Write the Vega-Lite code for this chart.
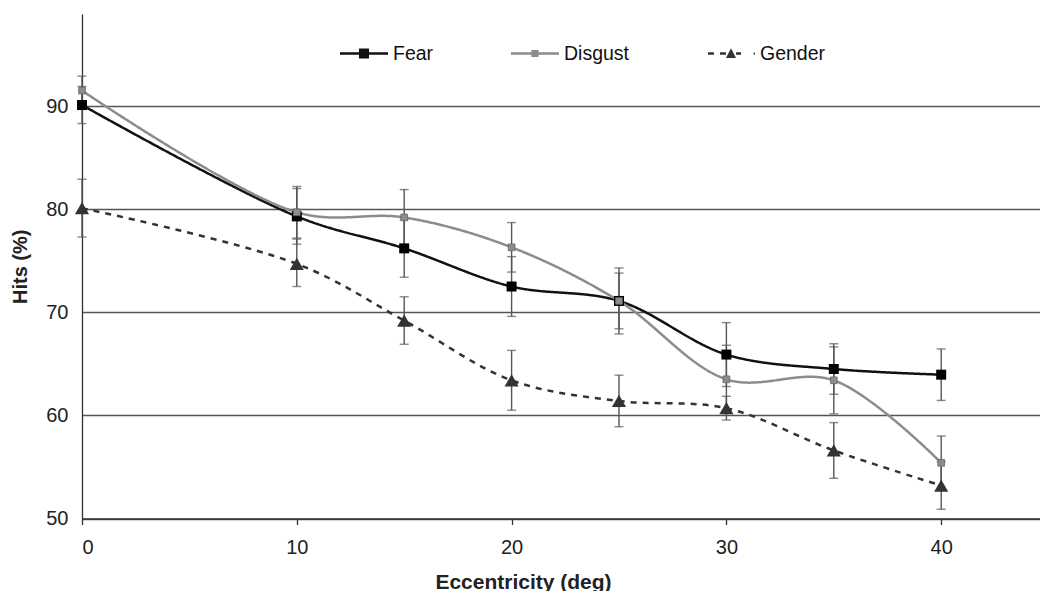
{
  "$schema": "https://vega.github.io/schema/vega-lite/v6.json",
  "width": 958,
  "height": 504.5,
  "autosize": "none",
  "padding": {"left": 82, "top": 14, "right": 0, "bottom": 72.5},
  "background": "white",
  "config": {
    "font": "Liberation Sans",
    "view": {"stroke": null}
  },
  "data": {
    "values": [
      {"ecc": 0, "cond": "Fear", "hits": 90.1, "lo": 88.3, "hi": 91.9},
      {"ecc": 10, "cond": "Fear", "hits": 79.3, "lo": 76.6, "hi": 82.0},
      {"ecc": 15, "cond": "Fear", "hits": 76.2, "lo": 73.4, "hi": 79.0},
      {"ecc": 20, "cond": "Fear", "hits": 72.5, "lo": 69.6, "hi": 75.4},
      {"ecc": 25, "cond": "Fear", "hits": 71.1, "lo": 67.9, "hi": 74.3},
      {"ecc": 30, "cond": "Fear", "hits": 65.9, "lo": 62.8, "hi": 69.0},
      {"ecc": 35, "cond": "Fear", "hits": 64.5, "lo": 62.05, "hi": 66.95},
      {"ecc": 40, "cond": "Fear", "hits": 63.95, "lo": 61.45, "hi": 66.45},
      {"ecc": 0, "cond": "Disgust", "hits": 91.5, "lo": 90.1, "hi": 92.9},
      {"ecc": 10, "cond": "Disgust", "hits": 79.7, "lo": 77.2, "hi": 82.2},
      {"ecc": 15, "cond": "Disgust", "hits": 79.2, "lo": 76.5, "hi": 81.9},
      {"ecc": 20, "cond": "Disgust", "hits": 76.3, "lo": 73.9, "hi": 78.7},
      {"ecc": 25, "cond": "Disgust", "hits": 71.1, "lo": 68.4, "hi": 73.8},
      {"ecc": 30, "cond": "Disgust", "hits": 63.5, "lo": 60.2, "hi": 66.8},
      {"ecc": 35, "cond": "Disgust", "hits": 63.4, "lo": 60.15, "hi": 66.65},
      {"ecc": 40, "cond": "Disgust", "hits": 55.4, "lo": 52.8, "hi": 58.0},
      {"ecc": 0, "cond": "Gender", "hits": 80.1, "lo": 77.3, "hi": 82.9},
      {"ecc": 10, "cond": "Gender", "hits": 74.7, "lo": 72.5, "hi": 77.1},
      {"ecc": 15, "cond": "Gender", "hits": 69.2, "lo": 66.9, "hi": 71.5},
      {"ecc": 20, "cond": "Gender", "hits": 63.4, "lo": 60.5, "hi": 66.3},
      {"ecc": 25, "cond": "Gender", "hits": 61.4, "lo": 58.9, "hi": 63.9},
      {"ecc": 30, "cond": "Gender", "hits": 60.7, "lo": 59.55, "hi": 61.85},
      {"ecc": 35, "cond": "Gender", "hits": 56.6, "lo": 53.9, "hi": 59.3},
      {"ecc": 40, "cond": "Gender", "hits": 53.2, "lo": 50.9, "hi": 55.5}
    ]
  },
  "layer": [
    {
      "mark": {"type": "rule", "color": "#555555", "strokeWidth": 1.4},
      "encoding": {
        "x": {
          "field": "ecc", "type": "quantitative",
          "scale": {"domain": [0, 44.6], "nice": false, "zero": false},
          "axis": {
            "values": [0, 10, 20, 30, 40],
            "title": "Eccentricity (deg)",
            "grid": false,
            "domainColor": "#333333", "domainWidth": 1.3,
            "tickColor": "#333333", "tickSize": 6, "tickWidth": 1.3,
            "labelFontSize": 20, "labelColor": "#222222", "labelPadding": 13,
            "titleFontSize": 21, "titleFontWeight": "bold", "titleColor": "#222222",
            "titleX": 441, "titleY": 69.5, "titleBaseline": "alphabetic"
          }
        },
        "y": {
          "field": "lo", "type": "quantitative",
          "scale": {"domain": [50, 98.93], "nice": false, "zero": false},
          "axis": {
            "values": [50, 60, 70, 80, 90],
            "title": "Hits (%)",
            "grid": true, "gridColor": "#555555", "gridWidth": 1.3,
            "domainColor": "#333333", "domainWidth": 1.3,
            "tickSize": 0,
            "labelFontSize": 20, "labelColor": "#222222", "labelPadding": 14,
            "titleFontSize": 20, "titleFontWeight": "bold", "titleColor": "#222222",
            "titleX": -52
          }
        },
        "y2": {"field": "hi"}
      }
    },
    {
      "mark": {"type": "tick", "color": "#555555", "orient": "horizontal", "size": 9, "thickness": 1.4},
      "encoding": {
        "x": {"field": "ecc", "type": "quantitative"},
        "y": {"field": "lo", "type": "quantitative"}
      }
    },
    {
      "mark": {"type": "tick", "color": "#555555", "orient": "horizontal", "size": 9, "thickness": 1.4},
      "encoding": {
        "x": {"field": "ecc", "type": "quantitative"},
        "y": {"field": "hi", "type": "quantitative"}
      }
    },
    {
      "mark": {"type": "line", "interpolate": "catmull-rom", "strokeWidth": 2.5},
      "encoding": {
        "x": {"field": "ecc", "type": "quantitative"},
        "y": {"field": "hits", "type": "quantitative"},
        "color": {
          "field": "cond", "type": "nominal",
          "scale": {"domain": ["Fear", "Disgust", "Gender"], "range": ["#111111", "#8c8c8c", "#333333"]},
          "legend": {
            "orient": "none", "legendX": 258, "legendY": 15.5,
            "direction": "horizontal", "title": null,
            "symbolSize": 2304, "labelFontSize": 19.5, "labelColor": "#111111", "labelOffset": 5,
            "columnPadding": 77, "gridAlign": "none",
            "encode": {
              "symbols": {
                "update": {
                  "shape": {"signal": "datum.value === 'Fear' ? 'M-1,-0.05H1V0.05H-1Z M-0.21,-0.21H0.21V0.21H-0.21Z' : datum.value === 'Disgust' ? 'M-1,-0.05H1V0.05H-1Z M-0.15,-0.15H0.15V0.15H-0.15Z' : 'M-0.96,-0.05H-0.71V0.05H-0.96Z M-0.46,-0.05H-0.21V0.05H-0.46Z M-0.21,0.19L0,-0.22L0.21,0.19Z M0.21,-0.05H0.42V0.05H0.21Z M0.94,-0.045H1V0.045H0.94Z'"},
                  "size": {"value": 2304},
                  "fill": {"signal": "datum.value === 'Fear' ? '#111111' : datum.value === 'Disgust' ? '#8c8c8c' : '#333333'"},
                  "fillOpacity": {"value": 1},
                  "opacity": {"value": 1},
                  "stroke": {"value": "transparent"},
                  "strokeWidth": {"value": 0},
                  "strokeDash": {"value": [1, 0]}
                }
              }
            }
          }
        },
        "strokeDash": {
          "field": "cond", "type": "nominal",
          "scale": {"domain": ["Fear", "Disgust", "Gender"], "range": [[1, 0], [1, 0], [6, 6]]},
          "legend": null
        }
      }
    },
    {
      "transform": [{"filter": "datum.cond === 'Fear'"}],
      "mark": {"type": "point", "filled": true, "opacity": 1, "shape": "square", "size": 100, "color": "#000000"},
      "encoding": {
        "x": {"field": "ecc", "type": "quantitative"},
        "y": {"field": "hits", "type": "quantitative"}
      }
    },
    {
      "transform": [{"filter": "datum.cond === 'Disgust'"}],
      "mark": {"type": "point", "filled": true, "opacity": 1, "shape": "square", "size": 45, "color": "#8c8c8c", "stroke": "#666666", "strokeWidth": 0.8},
      "encoding": {
        "x": {"field": "ecc", "type": "quantitative"},
        "y": {"field": "hits", "type": "quantitative"}
      }
    },
    {
      "transform": [{"filter": "datum.cond === 'Gender'"}],
      "mark": {"type": "point", "filled": true, "opacity": 1, "shape": "triangle-up", "size": 200, "color": "#333333"},
      "encoding": {
        "x": {"field": "ecc", "type": "quantitative"},
        "y": {"field": "hits", "type": "quantitative"}
      }
    }
  ]
}
